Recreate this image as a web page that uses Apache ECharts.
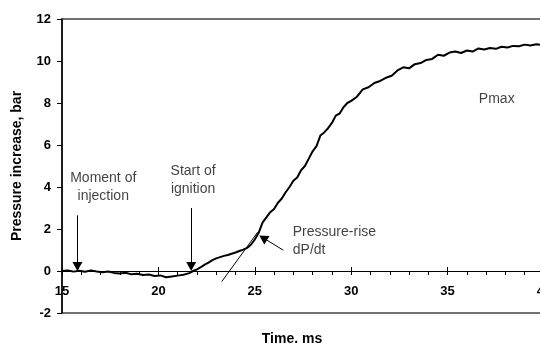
<!DOCTYPE html>
<html>
<head>
<meta charset="utf-8">
<script src="https://cdn.jsdelivr.net/npm/echarts@6/dist/echarts.min.js"></script>
<style>html,body{margin:0;padding:0;background:#fff;}#c{width:540px;height:345px;}</style>
</head>
<body>
<div id="c"></div>
<script>
// Time (ms) and pressure increase (bar)
const timeMs = [15.0,15.3,15.6,15.9,16.2,16.5,16.8,17.1,17.4,17.7,18.0,18.3,18.6,18.9,19.2,19.5,19.8,20.1,20.4,20.7,21.0,21.3,21.6,21.8,22.0,22.2,22.4,22.6,22.8,23.0,23.2,23.4,23.6,23.8,24.0,24.2,24.4,24.6,24.8,25.0,25.2,25.4,25.6,25.8,26.0,26.2,26.4,26.6,26.8,27.0,27.2,27.4,27.6,27.8,28.0,28.2,28.4,28.6,28.8,29.0,29.2,29.4,29.6,29.8,30.0,30.3,30.6,30.9,31.2,31.5,31.8,32.1,32.4,32.7,33.0,33.3,33.6,33.9,34.2,34.5,34.8,35.1,35.4,35.7,36.0,36.3,36.6,36.9,37.2,37.5,37.8,38.1,38.4,38.7,39.0,39.3,39.6,39.9];
const pressureBar = [0.00,0.02,-0.03,0.01,-0.04,0.03,-0.02,-0.06,-0.02,-0.09,-0.12,-0.08,-0.16,-0.13,-0.19,-0.17,-0.24,-0.21,-0.30,-0.26,-0.22,-0.18,-0.10,0.00,0.08,0.18,0.30,0.40,0.52,0.60,0.66,0.72,0.76,0.82,0.88,0.95,1.02,1.10,1.25,1.50,1.82,2.30,2.55,2.80,2.95,3.25,3.45,3.75,4.00,4.30,4.45,4.80,5.00,5.35,5.70,5.95,6.45,6.60,6.80,7.05,7.40,7.50,7.80,8.00,8.10,8.30,8.65,8.75,8.95,9.05,9.20,9.30,9.55,9.70,9.65,9.85,9.90,10.05,10.10,10.30,10.25,10.40,10.45,10.38,10.50,10.45,10.60,10.55,10.62,10.58,10.68,10.64,10.72,10.70,10.78,10.74,10.80,10.76];

// Axis settings
const xMin = 15, xMax = 40, xStep = 5;
const yMin = -2, yMax = 12, yStep = 2;
const xAxisCross = 0; // x axis crosses the pressure axis at 0 bar

// Annotation texts with anchor positions in data units [time, pressure]
const noteTexts = ['Moment of\ninjection', 'Start of\nignition', 'Pmax', 'Pressure-rise\ndP/dt'];
const notePos = [[17.14, 3.97], [21.80, 4.35], [37.55, 8.18], [26.97, 1.44]];
const noteAlign = ['center', 'center', 'center', 'left'];

// Arrows: [from, to] in data units
const arrowFrom = [[15.8, 2.65], [21.7, 3.0], [26.48, 0.99]];
const arrowTo = [[15.8, 0.21], [21.7, 0.21], [25.43, 1.58]];
// Tangent line (pressure-rise slope)
const tangentFrom = [23.29, -0.5];
const tangentTo = [25.15, 1.85];

const lineData = timeMs.map((t, i) => [t, pressureBar[i]]);
const noteData = noteTexts.map((s, i) => ({
  value: notePos[i], name: s,
  label: { align: noteAlign[i] }
}));
const arrowLines = arrowFrom.map((f, i) => [{ coord: f }, { coord: arrowTo[i] }]);
arrowLines.push([{ coord: tangentFrom, symbol: 'none' }, { coord: tangentTo, symbol: 'none' }]);

const W = 540, H = 345;
const G = { left: 62, right: -4, top: 19, bottom: 32 };
const plotH = H - G.top - G.bottom;
// lift the x axis from the grid bottom up to the crossing value
const crossOffset = -((xAxisCross - yMin) / (yMax - yMin)) * plotH;

const FONT = 'Liberation Sans, Arial, sans-serif';
const chart = echarts.init(document.getElementById('c'), null, { renderer: 'canvas' });
chart.setOption({
  animation: false,
  backgroundColor: '#fff',
  grid: Object.assign({ show: true, borderColor: '#444', borderWidth: 1.5, backgroundColor: 'transparent', outerBoundsMode: 'none', containLabel: false }, G),
  xAxis: [{
    type: 'value', min: xMin, max: xMax, interval: xStep, position: 'bottom', offset: crossOffset,
    axisLine: { onZero: false, lineStyle: { color: '#000', width: 1 } },
    axisTick: { show: true, length: 4, lineStyle: { color: '#000' } },
    minorTick: { show: true, splitNumber: 5, length: 4, lineStyle: { color: '#000' } },
    axisLabel: { margin: 14, color: '#000', fontWeight: 'bold', fontSize: 13, fontFamily: FONT },
    splitLine: { show: false }
  }, {
    type: 'value', min: xMin, max: xMax, interval: xStep, position: 'bottom', offset: crossOffset,
    axisLine: { show: false, onZero: false },
    axisTick: { show: true, inside: true, length: 4, lineStyle: { color: '#000' } },
    axisLabel: { show: false },
    splitLine: { show: false }
  }],
  yAxis: {
    type: 'value', min: yMin, max: yMax, interval: yStep,
    axisLine: { show: true, lineStyle: { color: '#000', width: 1.5 } },
    axisTick: { show: true, length: 5, lineStyle: { color: '#000' } },
    axisLabel: { margin: 11, color: '#000', fontWeight: 'bold', fontSize: 13, fontFamily: FONT },
    splitLine: { show: false }
  },
  graphic: [
    { type: 'text', x: 17, y: 166, rotation: Math.PI / 2,
      style: { text: 'Pressure increase, bar', fill: '#000', font: 'bold 14px ' + FONT, textAlign: 'center', textVerticalAlign: 'middle' } },
    { type: 'text', x: 292, y: 339,
      style: { text: 'Time. ms', fill: '#000', font: 'bold 14px ' + FONT, textAlign: 'center', textVerticalAlign: 'middle' } }
  ],
  series: [{
    type: 'line', data: lineData, showSymbol: false, symbol: 'none',
    lineStyle: { color: '#000', width: 2 }, silent: true,
    markLine: {
      silent: true, symbol: ['none', 'triangle'], symbolSize: [10, 9],
      lineStyle: { color: '#000', width: 1, type: 'solid' },
      label: { show: false }, emphasis: { disabled: true },
      data: arrowLines
    }
  }, {
    type: 'scatter', data: noteData, symbolSize: 1, itemStyle: { color: 'rgba(0,0,0,0)' },
    silent: true,
    label: { show: true, position: 'inside', formatter: '{b}', color: '#111', fontSize: 14, lineHeight: 18, fontFamily: FONT }
  }]
});
</script>
</body>
</html>
